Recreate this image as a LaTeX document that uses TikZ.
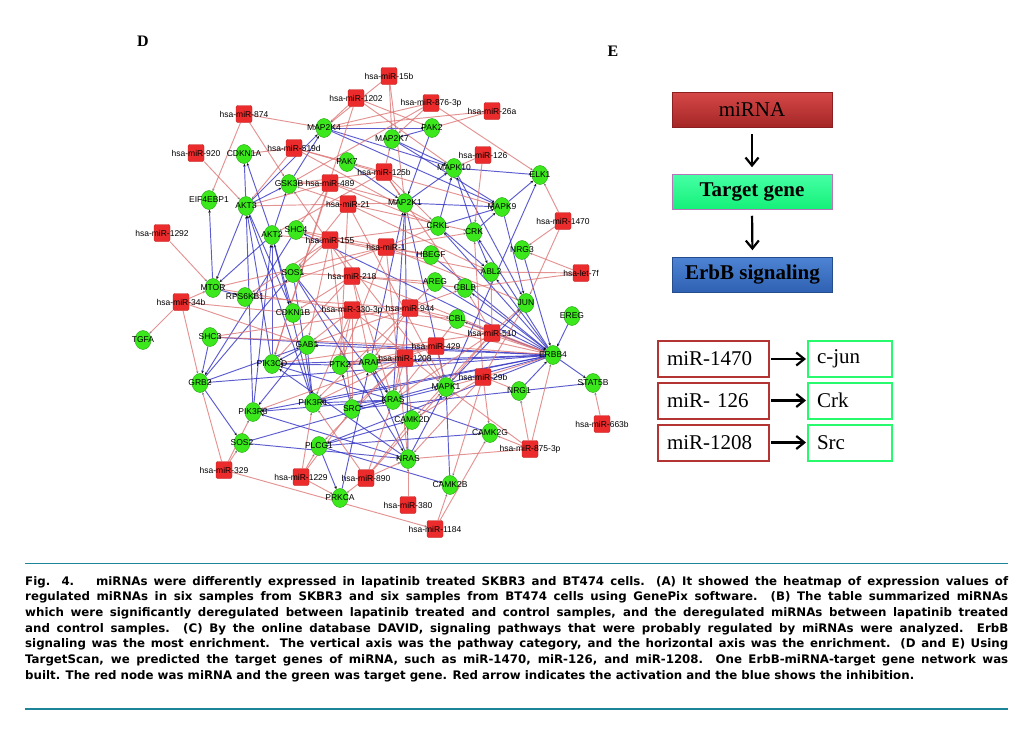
\documentclass[tikz,border=0pt]{standalone}
\usepackage{fontspec}
\setmainfont{Liberation Serif}
\newfontfamily\netfont{Liberation Sans}
\newfontfamily\capfont{DejaVu Sans}
\usetikzlibrary{arrows.meta,shapes.geometric,backgrounds}

\definecolor{mirred}{RGB}{236,44,44}
\definecolor{genegreen}{RGB}{58,232,28}
\definecolor{inhblue}{RGB}{52,52,196}
\definecolor{actred}{RGB}{220,112,112}
\definecolor{rulecol}{RGB}{28,134,152}
\definecolor{boxred}{RGB}{180,52,52}
\definecolor{boxgreen}{RGB}{40,250,110}
\definecolor{flowredtop}{RGB}{214,72,72}
\definecolor{flowredbot}{RGB}{165,38,38}
\definecolor{flowgreentop}{RGB}{70,255,165}
\definecolor{flowgreenbot}{RGB}{20,240,120}
\definecolor{flowbluetop}{RGB}{78,132,212}
\definecolor{flowbluebot}{RGB}{46,96,176}

\tikzset{
  mirna/.style={rectangle, rounded corners=2pt, minimum width=16pt, minimum height=17pt,
    inner sep=0pt, fill=mirred, draw=mirred!80!black, line width=0.4pt},
  gene/.style={ellipse, minimum width=16pt, minimum height=19pt, inner sep=0pt,
    fill=genegreen, draw=genegreen!70!black, line width=0.4pt},
  netlab/.style={font=\netfont\fontsize{8.5}{9}\selectfont, inner sep=0pt},
  inh/.style={draw=inhblue, line width=0.95pt, opacity=0.8,
    -{Stealth[length=3pt,width=2.6pt,black]}},
  act/.style={draw=actred, line width=0.95pt, opacity=0.75,
    -{Stealth[length=2.5pt,width=2.2pt,black!60]}},
  flowbox/.style={minimum width=160pt, minimum height=35pt, inner sep=0pt,
    font=\fontsize{21}{24}\selectfont},
  pairbox/.style={minimum height=36pt, inner ysep=0pt, inner xsep=9pt, align=left,
    fill=white, line width=2pt, font=\fontsize{21}{24}\selectfont},
  flowarrow/.style={line width=2.2pt, -{Straight Barb[length=8pt,width=13pt]}},
}

\begin{document}
\begin{tikzpicture}[x=1pt,y=-1pt]
\useasboundingbox (0,0) rectangle (1032,731);

% panel letters
\node[font=\bfseries\fontsize{16}{18}\selectfont] (panelD) at (143,41) {D};
\node[font=\bfseries\fontsize{16}{18}\selectfont] (panelE) at (613,51) {E};

% miRNA nodes
\foreach \n/\x/\y/\t in {m15b/389/76/15b, m1202/356/98/1202, m876/431/103/876-3p,
    m26a/492/111/26a, m874/244/114/874, m920/196/153/920, m519d/294/148/519d,
    m126/483/155/126, m125b/384/172/125b, m489/330/183/489, m21/348/204/21,
    m1470/563/221/1470, m1292/162/233/1292, m155/330/240/155, m1/386/247/1,
    m218/352/276/218, m34b/181/302/34b, m944/410/308/944, m330/352/310/330-3p,
    m510/492/333/510, m429/436/346/429, m1208/405/358/1208, m29b/483/377/29b,
    m663b/602/424/663b, m875/530/449/875-3p, m329/224/470/329, m1229/301/477/1229,
    m890/366/478/890, m380/408/505/380, m1184/435/529/1184} {
  \node[mirna] (\n) at (\x,\y) {};
  \node[netlab] at (\n) {hsa-miR-\t};
}
\node[mirna] (mlet) at (581,273) {};
\node[netlab] at (mlet) {hsa-let-7f};

% target gene nodes
\foreach \n/\x/\y in {MAP2K4/324/128, PAK2/432/128, MAP2K7/392/139, CDKN1A/244/154,
    PAK7/347/162, MAPK10/454/168, ELK1/540/175, GSK3B/289/184, EIF4EBP1/209/200,
    MAP2K1/405/203, AKT3/246/206, MAPK9/502/207, CRKL/438/226, CRK/474/232,
    SHC4/296/230, AKT2/272/235, NRG3/522/250, HBEGF/431/255, ABL2/491/272,
    SOS1/293/273, AREG/435/282, MTOR/213/288, CBLB/465/288, RPS6KB1/245/297,
    JUN/526/303, CDKN1B/293/313, EREG/572/316, CBL/457/319, SHC3/210/337,
    TGFA/143/340, GAB1/307/345, ERBB4/553/355, ARAF/370/363, PIK3CD/272/364,
    PTK2/340/365, GRB2/200/383, STAT5B/593/383, MAPK1/446/387, NRG1/519/391,
    KRAS/393/400, PIK3R1/313/403, SRC/352/409, PIK3R3/253/412, CAMK2D/412/420,
    CAMK2G/490/433, SOS2/242/443, PLCG1/319/446, NRAS/408/459, CAMK2B/450/485,
    PRKCA/340/498} {
  \node[gene] (\n) at (\x,\y) {};
  \node[netlab] at (\n) {\n};
}

\begin{scope}[on background layer]
  \fill[white] (0,0) rectangle (1032,731);
  % gene to gene edges
  \foreach \a/\b in {MAP2K4/MAPK10, MAP2K4/MAPK9, MAP2K7/MAPK10, MAP2K7/MAPK9,
      PAK2/MAP2K1, PAK2/MAP2K7, PAK7/MAP2K1, MAP2K4/PAK2, MAP2K1/MAPK1, MAP2K1/MAPK9,
      MAP2K1/MAPK10, MAPK10/ELK1, MAPK9/ELK1, MAPK1/ELK1, MAPK10/JUN, MAPK9/JUN,
      MAPK1/JUN, CRKL/MAPK10, CRK/MAPK10, CRK/MAPK9, CRKL/MAPK9, CRK/ABL2, CRKL/ABL2,
      ARAF/MAP2K1, KRAS/ARAF, NRAS/ARAF, KRAS/MAP2K1, NRAS/MAP2K1, SOS1/KRAS,
      SOS1/NRAS, SOS2/KRAS, SOS2/NRAS, GRB2/SOS1, GRB2/SOS2, GRB2/GAB1, SHC3/GRB2,
      SHC4/GRB2, KRAS/PIK3CD, NRAS/PIK3CD, KRAS/PIK3R1, NRAS/PIK3R3, KRAS/PIK3R3,
      GAB1/PIK3R1, GAB1/PIK3R3, GAB1/PIK3CD, PIK3R1/AKT2, PIK3R1/AKT3, PIK3R3/AKT2,
      PIK3R3/AKT3, PIK3CD/AKT2, PIK3CD/AKT3, AKT2/GSK3B, AKT3/GSK3B, AKT2/CDKN1A,
      AKT3/CDKN1A, AKT2/CDKN1B, AKT3/CDKN1B, AKT2/MTOR, AKT3/MTOR, MTOR/RPS6KB1,
      MTOR/EIF4EBP1, AKT3/MAP2K4, GSK3B/MAP2K4, PLCG1/PRKCA, PLCG1/CAMK2D,
      PLCG1/CAMK2B, PLCG1/CAMK2G, PRKCA/ARAF, SRC/PTK2, ERBB4/SHC3, ERBB4/SHC4,
      ERBB4/GRB2, ERBB4/PIK3R1, ERBB4/PIK3R3, ERBB4/PIK3CD, ERBB4/STAT5B, ERBB4/CBL,
      ERBB4/CBLB, ERBB4/SRC, ERBB4/PLCG1, ERBB4/CRK, ERBB4/CRKL, ERBB4/GAB1,
      ERBB4/ABL2, ERBB4/PTK2, NRG1/ERBB4, NRG3/ERBB4, EREG/ERBB4, HBEGF/ERBB4,
      AREG/ERBB4, SRC/STAT5B, NRAS/MAPK1, KRAS/MAPK1, CAMK2G/KRAS, CAMK2B/MAPK1,
      PTK2/PIK3CD, SOS1/PIK3R1}
    \draw[inh] (\a) -- (\b);
  % miRNA to gene edges
  \foreach \m/\ts in {m874/{MAP2K4,EIF4EBP1,GSK3B}, m920/{AKT3},
      m519d/{CDKN1A,PAK7,AKT3,MAPK9,CRKL}, m1202/{MAP2K4,PIK3CD,PAK2,MAPK10},
      m15b/{MAP2K4,MAP2K1,MAP2K7}, m876/{MAP2K4,MAP2K7,ELK1,GSK3B},
      m26a/{PAK2,MAP2K4}, m126/{CRK,MAPK10}, m1470/{ELK1,JUN,NRG3}, m1292/{MTOR},
      m34b/{TGFA,MTOR,GAB1,GRB2,CDKN1B},
      m125b/{MAP2K1,PAK7,MAP2K7,GSK3B,CRKL,AKT2,CBLB},
      m489/{GSK3B,SHC4,MAP2K1,CRKL,PIK3CD,AKT3},
      m21/{AKT3,GSK3B,SOS1,MAP2K1,PTK2,CRK,MAPK1,ABL2},
      m155/{SHC4,AKT2,SOS1,CRKL,HBEGF,ABL2,GAB1,SRC,MAPK1,RPS6KB1},
      m218/{SOS1,CDKN1B,AREG,CBLB,PIK3CD,KRAS,ERBB4,ARAF,GSK3B},
      m330/{CDKN1B,GAB1,PIK3R1,SRC,CBL,ERBB4,MAPK1,PTK2,MTOR},
      m1/{CRKL,HBEGF,CRK,SHC4,RPS6KB1,MTOR,PTK2,NRAS,JUN}, mlet/{ABL2,NRG3,CBLB},
      m944/{CBLB,AREG,CBL,ARAF,PIK3R1,KRAS,GAB1,RPS6KB1,SHC3,ERBB4},
      m510/{CBL,JUN,ERBB4,MAPK1,ABL2,CAMK2D,KRAS,PIK3CD,CBLB},
      m429/{CBL,MAPK1,KRAS,ERBB4,PTK2,SHC3,ARAF,PIK3R3},
      m1208/{SRC,ARAF,PTK2,KRAS,CAMK2D,PIK3R1,PLCG1},
      m29b/{MAPK1,NRG1,CAMK2G,ERBB4,CAMK2B,NRAS,JUN,CAMK2D,CRK},
      m875/{NRAS,NRG1,CAMK2G,MAPK1,ERBB4}, m663b/{STAT5B},
      m890/{PRKCA,NRAS,KRAS,CAMK2D,MAPK1,PIK3R1}, m380/{NRAS},
      m1184/{CAMK2B,CAMK2G}, m329/{GRB2,PIK3R3,SOS2,m1184},
      m1229/{PLCG1,PIK3R1,SRC,PRKCA}}
    \foreach \g in \ts
      \draw[act] (\m) -- (\g);
\end{scope}

% panel E flow
\node[flowbox, top color=flowredtop, bottom color=flowredbot,
  draw=flowredbot!85!black, line width=0.5pt] (fmirna) at (752,109.5) {miRNA};
\node[flowbox, top color=flowgreentop, bottom color=flowgreenbot,
  draw=violet!55, line width=0.5pt, font=\bfseries\fontsize{21}{24}\selectfont]
  (ftarget) at (752,192) {Target gene};
\node[flowbox, top color=flowbluetop, bottom color=flowbluebot,
  draw=flowbluebot!80!black, line width=0.5pt, font=\bfseries\fontsize{21}{24}\selectfont]
  (ferbb) at (752.5,275) {ErbB signaling};
\draw[flowarrow, shorten <=7pt, shorten >=7pt] (fmirna.south) -- (ftarget.north);
\draw[flowarrow, shorten <=6pt, shorten >=7pt] (ftarget.south) -- (ferbb.north);

% panel E pairs
\foreach \i/\y/\mir/\tg in {1/359/miR-1470/c-jun, 2/400.5/miR- 126/Crk,
    3/442.5/miR-1208/Src} {
  \node[pairbox, draw=boxred, text width=93pt] (pmir\i) at (713.5,\y) {\mir};
  \node[pairbox, draw=boxgreen, text width=66pt] (pgene\i) at (850,\y) {\tg};
  \draw[flowarrow, shorten <=1pt, shorten >=1pt] (pmir\i) -- (pgene\i);
}

% caption
\draw[rulecol, line width=0.8pt] (25,563) -- (1008,563);
\node[anchor=north west, inner sep=0pt, text width=983pt, align=justify,
  font=\capfont\bfseries\fontsize{11.8}{15.67}\selectfont] (caption) at (25,576)
  {\tolerance=10000 Fig. 4.\hspace{0.9em} miRNAs were differently expressed in lapatinib treated SKBR3 and BT474 cells. (A) It showed the heatmap of expression values of\linebreak
  regulated miRNAs in six samples from SKBR3 and six samples from BT474 cells using GenePix software. (B) The table summarized miRNAs\linebreak
  which were significantly deregulated between lapatinib treated and control samples, and the deregulated miRNAs between lapatinib treated\linebreak
  and control samples. (C) By the online database DAVID, signaling pathways that were probably regulated by miRNAs were analyzed. ErbB\linebreak
  signaling was the most enrichment. The vertical axis was the pathway category, and the horizontal axis was the enrichment. (D and E) Using\linebreak
  TargetScan, we predicted the target genes of miRNA, such as miR-1470, miR-126, and miR-1208. One ErbB-miRNA-target gene network was\linebreak
  built. The red node was miRNA and the green was target gene. Red arrow indicates the activation and the blue shows the inhibition.};
\draw[rulecol, line width=2.5pt] (25,709) -- (1008,709);
\end{tikzpicture}
\end{document}
